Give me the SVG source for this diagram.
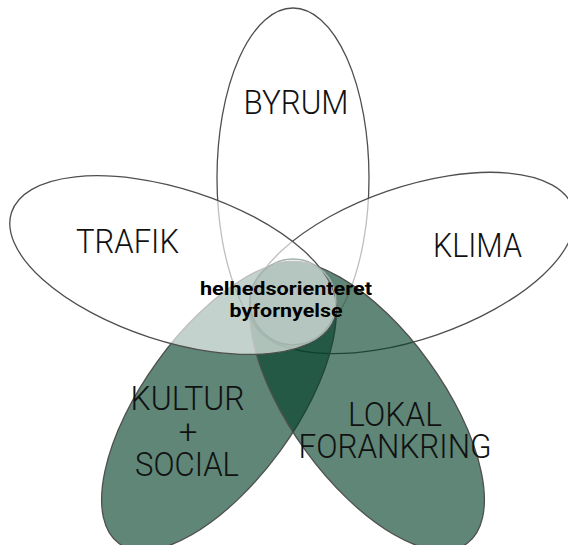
<svg xmlns="http://www.w3.org/2000/svg" width="568" height="545" viewBox="0 0 568 545">
  <style>
    .petal { stroke: #4f4f4f; stroke-width: 1.3; }
    .white { fill: #ffffff; fill-opacity: 0.63; }
    .green { fill: #023f27; fill-opacity: 0.63; }
    .lbl { font-family: Roboto, "Liberation Sans", sans-serif; font-weight: 300; font-size: 33px; fill: #111111; text-anchor: middle; }
    .core { font-family: Roboto, "Liberation Sans", sans-serif; font-weight: 700; font-size: 18.5px; fill: #000000; text-anchor: middle; }
  </style>
  <defs>
    <ellipse id="petal" cx="293" cy="178" rx="76" ry="170"/>
  </defs>
  <rect width="568" height="545" fill="#ffffff"/>
  <g id="connectors"/>
  <g id="byrum">
    <use href="#petal" class="petal" fill="none"/>
    <text class="lbl" x="296" y="114" textLength="105" lengthAdjust="spacingAndGlyphs">BYRUM</text>
  </g>
  <g id="klima">
    <use href="#petal" class="petal white" transform="rotate(71 293 304)"/>
    <text class="lbl" x="477.5" y="257" textLength="89" lengthAdjust="spacingAndGlyphs">KLIMA</text>
  </g>
  <g id="kultur-social">
    <use href="#petal" class="petal green" transform="rotate(-144 293 304)"/>
    <text class="lbl" x="187.5" y="410" textLength="114" lengthAdjust="spacingAndGlyphs">KULTUR</text>
    <text class="lbl" x="188" y="443">+</text>
    <text class="lbl" x="187" y="476" textLength="104" lengthAdjust="spacingAndGlyphs">SOCIAL</text>
  </g>
  <g id="lokal-forankring">
    <use href="#petal" class="petal green" transform="rotate(144 293 304)"/>
    <text class="lbl" x="395" y="426" textLength="94" lengthAdjust="spacingAndGlyphs">LOKAL</text>
    <text class="lbl" x="395" y="457.5" textLength="193" lengthAdjust="spacingAndGlyphs">FORANKRING</text>
  </g>
  <g id="trafik">
    <use href="#petal" class="petal white" transform="rotate(-72 293 304)"/>
    <text class="lbl" x="127.5" y="253" textLength="103" lengthAdjust="spacingAndGlyphs">TRAFIK</text>
  </g>
  <g id="center">
    <circle cx="293" cy="302" r="43" fill="#ffffff" fill-opacity="0.08" stroke="#a3b3ad" stroke-width="1.6"/>
    <text class="core" x="286" y="295" textLength="172" lengthAdjust="spacingAndGlyphs">helhedsorienteret</text>
    <text class="core" x="286" y="317" textLength="113" lengthAdjust="spacingAndGlyphs">byfornyelse</text>
  </g>
</svg>
